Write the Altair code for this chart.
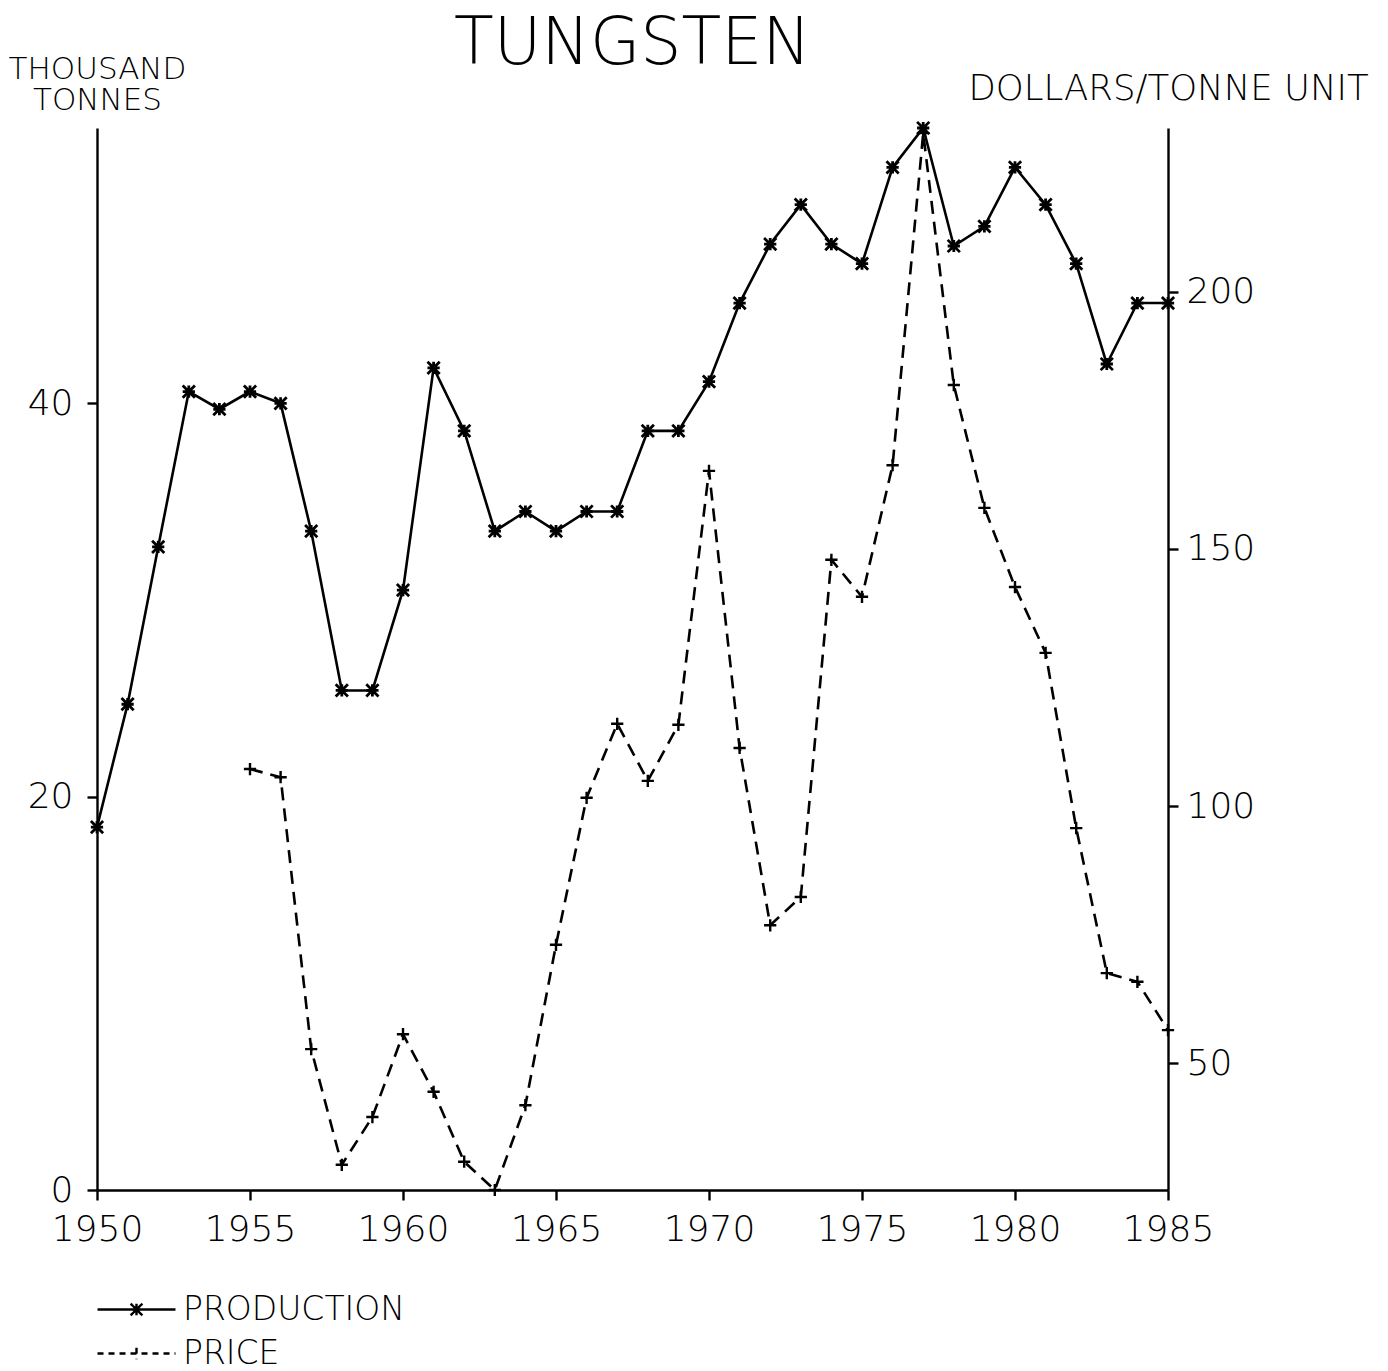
import altair as alt
import pandas as pd

# ---- data ----
prod_years = list(range(1950, 1986))
production = [18.45, 24.7, 32.7, 40.6, 39.7, 40.6, 40.0, 33.5, 25.4, 25.4,
              30.5, 41.8, 38.6, 33.5, 34.5, 33.5, 34.5, 34.5, 38.6, 38.6,
              41.1, 45.1, 48.1, 50.1, 48.1, 47.1, 52.0, 54.0, 48.0, 49.0,
              52.0, 50.1, 47.1, 42.0, 45.1, 45.1]

price_years = list(range(1955, 1986))
price = [107.2, 105.6, 52.7, 30.2, 39.5, 55.6, 44.4, 30.8, 25.3, 41.8,
         73.0, 101.6, 116.0, 104.9, 115.8, 165.2, 111.3, 76.8, 82.3, 147.9,
         140.7, 166.3, 230.9, 181.9, 158.0, 142.6, 129.8, 95.7, 67.5, 65.8,
         56.4]

series_names = ["PRODUCTION", "PRICE"]
x_ticks = [1950, 1955, 1960, 1965, 1970, 1975, 1980, 1985]
left_ticks = [0, 20, 40]
right_ticks = [50, 100, 150, 200]

prod_df = pd.DataFrame({"year": prod_years, "value": production, "series": series_names[0]})
price_df = pd.DataFrame({"year": price_years, "value": price, "series": series_names[1]})

FONT = "DejaVu Sans"
STAR = "M-1,-1L1,1M-1,1L1,-1M-1,0L1,0M0,-1L0,1"
PLUS = "M-1,0L1,0M0,-1L0,1"

# legend symbols: a line segment with the series marker in its middle
leg_prod = "M-4,0L4,0M-0.6,-0.6L0.6,0.6M-0.6,0.6L0.6,-0.6M0,-0.6L0,0.6"
leg_price = "M-4,0L4,0M0,-0.6L0,0.6"

legend_params = dict(
    title=None, orient="none", legendX=23, legendY=1165, direction="vertical",
    symbolSize=380, symbolStrokeWidth=2.4, symbolStrokeColor="black",
    symbolFillColor="transparent", symbolOpacity=1,
    labelFontSize=33, labelFont=FONT, labelFontWeight=200, labelColor="black",
    labelOffset=30, labelLimit=0, rowPadding=10,
)

x_enc = alt.X("year:Q", scale=alt.Scale(domain=[1950, 1985], nice=False, zero=False),
              axis=alt.Axis(values=x_ticks, format="d", title=None, grid=False,
                            tickSize=10, labelPadding=12, labelFontSize=36,
                            labelFlush=False, labelBound=False, labelOverlap=False,
                            labelFont=FONT, labelFontWeight=200))

dash_enc = alt.StrokeDash(
    "series:N",
    scale=alt.Scale(domain=series_names, range=[[1, 0], [6, 5]]),
    legend=alt.Legend(**legend_params),
)
shape_enc = alt.Shape(
    "series:N",
    scale=alt.Scale(domain=series_names, range=[leg_prod, leg_price]),
    legend=alt.Legend(**legend_params),
)

y_left = alt.Y("value:Q", scale=alt.Scale(domain=[0, 54], nice=False, zero=False),
               axis=alt.Axis(orient="left", values=left_ticks, grid=False, tickSize=10,
                             labelPadding=14, labelFontSize=36, labelFont=FONT,
                             labelFontWeight=200,
                             title=["THOUSAND", "TONNES"], titleAngle=0, titleAlign="center",
                             titleBaseline="alphabetic", titleX=0, titleY=-50,
                             titleFontSize=31, titleFont=FONT, titleFontWeight=200,
                             titleLineHeight=31))

y_right = alt.Y("value:Q", scale=alt.Scale(domain=[25.3, 231.9], nice=False, zero=False),
                axis=alt.Axis(orient="right", values=right_ticks, grid=False, tickSize=10,
                              labelPadding=8, labelFontSize=36, labelFont=FONT,
                              labelFontWeight=200,
                              title="DOLLARS/TONNE UNIT", titleAngle=0, titleAlign="center",
                              titleBaseline="alphabetic", titleX=0, titleY=-29,
                              titleFontSize=35.5, titleFont=FONT, titleFontWeight=200))

LINE_W = 2.6
prod_line = alt.Chart(prod_df).mark_line(color="black", strokeWidth=LINE_W).encode(
    x=x_enc, y=y_left)
prod_pts = alt.Chart(prod_df).mark_point(shape=STAR, size=150, stroke="black",
                                         strokeWidth=2.8, filled=False, opacity=1).encode(
    x=x_enc, y=y_left)
# empty layer: only supplies legend symbols (line + marker)
legend_layer = alt.Chart(prod_df).transform_filter("false").mark_point(
    stroke="black", strokeWidth=2.4, filled=False, opacity=1).encode(
    x=x_enc, y=y_left, shape=shape_enc, strokeDash=dash_enc)

price_line = alt.Chart(price_df).mark_line(color="black", strokeWidth=LINE_W,
                                           strokeDash=[13, 8]).encode(
    x=x_enc, y=y_right)
price_pts = alt.Chart(price_df).mark_point(shape=PLUS, size=150, stroke="black",
                                           strokeWidth=2.4, filled=False, opacity=1).encode(
    x=x_enc, y=y_right)

left = alt.layer(prod_line, prod_pts, legend_layer)
right = alt.layer(price_line, price_pts)

chart = alt.layer(left, right).resolve_scale(y="independent").properties(
    width=1071, height=1062,
    autosize=alt.AutoSizeParams(type="none"),
    padding={"left": 89, "top": 120, "right": 212, "bottom": 180},
    title=alt.TitleParams("TUNGSTEN", fontSize=65, font=FONT, fontWeight=200,
                          anchor="middle", frame="group", color="black", offset=0, dy=25),
).configure_view(stroke=None).configure_axis(
    domainColor="black", domainWidth=2.4, tickColor="black", tickWidth=2.4,
    labelColor="black", titleColor="black")

chart.save("out.html", embed_options={"renderer": "svg", "actions": False})
